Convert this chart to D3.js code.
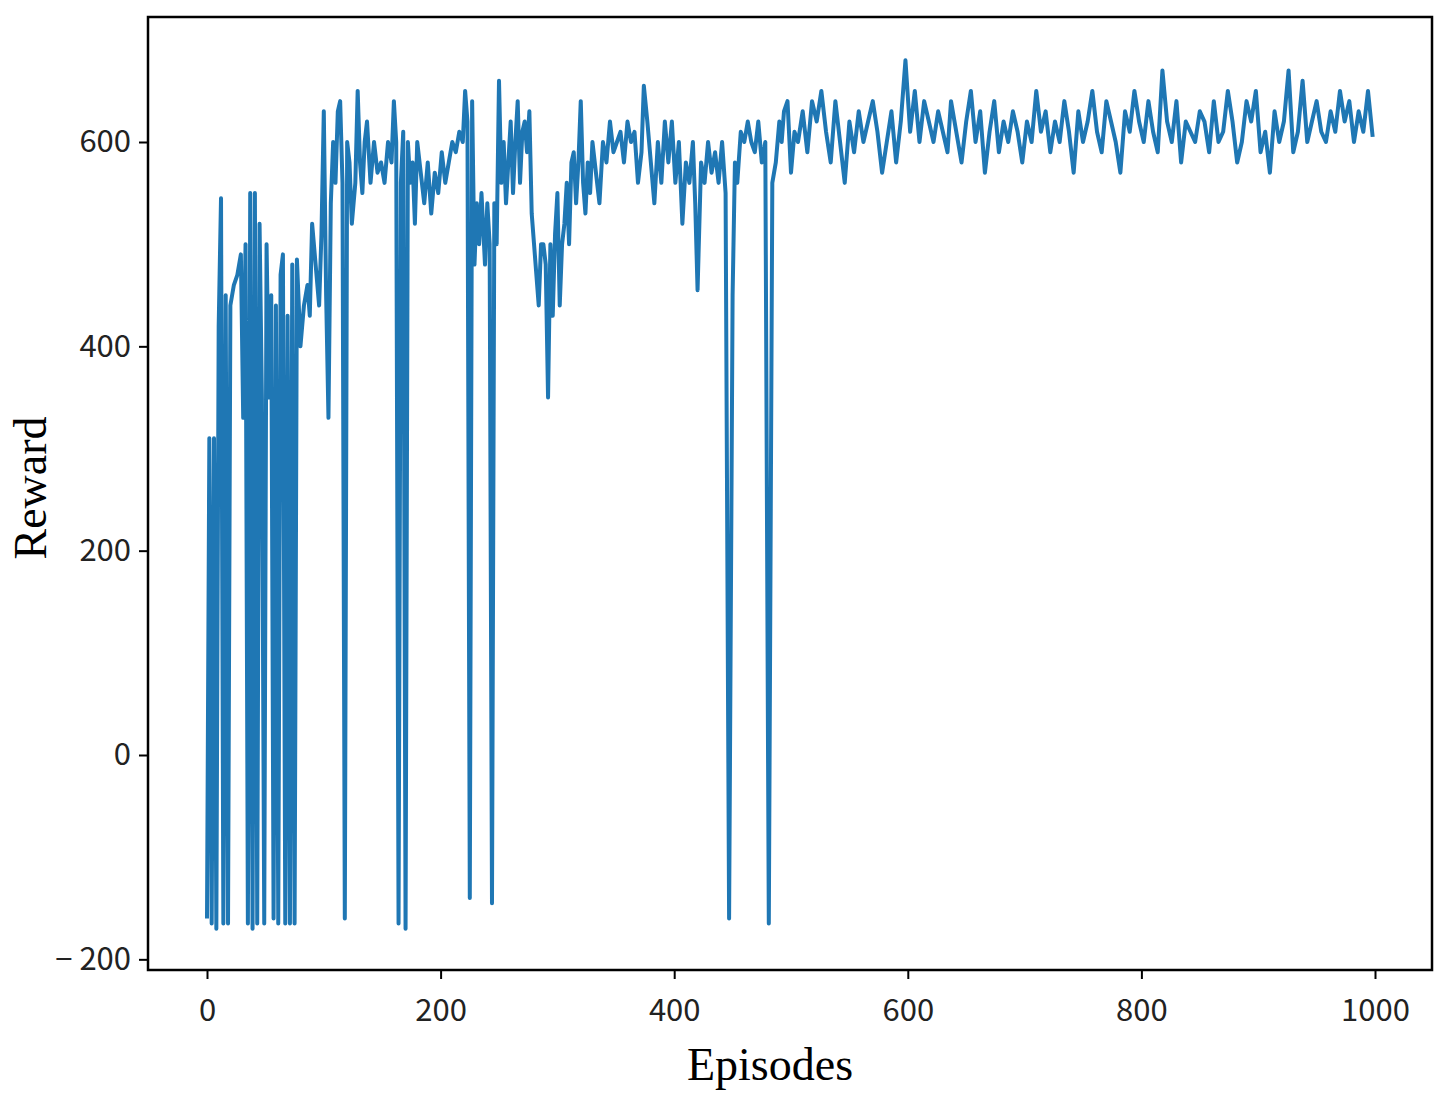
<!DOCTYPE html>
<html><head><meta charset="utf-8">
<script src="https://cdn.jsdelivr.net/npm/d3@7"></script>
<style>body{margin:0;background:#fff}</style></head>
<body><svg id="c" width="1450" height="1107"></svg>
<script>
// episode / reward samples
const episodes = [0,2,4,6,8,10,12,14,16,18,20,23,26,29,31,33,35,37,39,41,43,45,47,49,51,53,55,57,59,61,63,65,67,69,71,73,75,77,80,83,86,88,90,93,96,98,100,102,104,106,108,110,112,114,116,118,120,122,124,127,129,131,133,135,137,140,143,146,149,152,155,158,160,162,164,166,168,170,172,174,176,178,180,183,186,189,192,195,198,201,204,207,210,213,216,219,221,223,225,227,229,231,233,235,238,240,242,244,246,248,250,252,254,256,258,260,262,264,266,268,270,272,274,276,278,280,282,284,286,288,290,292,294,296,298,300,302,304,306,308,310,312,314,316,318,320,322,324,326,328,330,333,336,339,342,345,348,351,354,357,360,363,366,369,372,374,377,380,383,386,389,392,395,398,401,404,407,410,413,416,418,420,423,426,429,432,435,438,441,444,447,450,452,454,457,460,463,466,469,472,475,478,481,484,487,490,492,494,497,500,503,506,510,514,518,522,526,530,534,538,542,546,550,554,558,562,566,570,574,578,582,586,590,594,598,602,606,610,614,618,622,626,630,634,637,640,643,646,650,654,658,662,666,670,674,678,682,686,690,694,698,702,706,710,714,718,722,726,730,734,738,742,746,750,754,758,762,766,770,774,778,782,786,790,794,798,802,806,810,814,818,822,826,830,834,838,842,846,850,854,858,862,866,870,874,878,882,886,890,894,898,902,906,910,914,918,922,926,930,934,938,942,946,950,954,958,962,966,970,974,978,982,986,990,994,998];
const rewards = [-160,310,-165,310,-170,420,545,-165,450,-165,440,460,470,490,330,500,-165,550,-170,550,-165,520,350,-165,500,350,450,-160,440,-165,470,490,-165,430,-165,480,-165,485,400,440,460,430,520,480,440,510,630,450,330,540,600,560,630,640,560,-160,600,580,520,560,650,580,550,600,620,560,600,570,580,560,600,580,640,600,-165,560,610,-170,600,560,580,520,600,570,540,580,530,570,550,590,560,580,600,590,610,600,650,620,-140,640,480,540,500,550,480,540,500,-145,540,500,660,560,600,540,580,620,550,600,640,560,610,620,590,630,530,500,470,440,500,500,480,350,500,430,510,550,440,500,520,560,500,580,590,540,580,640,560,530,580,550,600,570,540,600,580,620,590,600,610,580,620,600,610,560,590,655,620,580,540,600,560,620,580,620,560,600,520,580,560,600,540,455,580,560,600,570,590,560,600,550,-160,450,580,560,610,600,620,600,590,620,580,600,-165,560,580,620,600,630,640,570,610,600,630,590,640,620,650,610,580,640,600,560,620,590,630,600,620,640,610,570,600,630,580,620,680,610,650,600,640,620,600,630,610,590,640,620,600,580,620,650,600,630,570,610,640,590,620,600,630,610,580,620,600,650,610,630,590,620,600,640,610,570,630,600,620,650,610,590,640,620,600,570,630,610,650,620,600,640,610,590,670,620,600,640,580,620,610,600,630,620,590,640,600,610,650,620,580,600,640,620,650,590,610,570,630,600,620,670,590,610,660,600,620,640,610,600,630,610,650,620,640,600,630,610,650,605];
const xTicks = [0,200,400,600,800,1000];
const yTicks = [-200,0,200,400,600];

const svg = d3.select("#c");
const L = 148, R = 1432, T = 17, B = 970;
const x = d3.scaleLinear().domain([0,1000]).range([207,1375]);
const y = d3.scaleLinear().domain([0,600]).range([755,142]);

const line = d3.line().x((d,i) => x(episodes[i])).y(d => y(d));
svg.append("path").datum(rewards.slice(0, episodes.length))
    .attr("d", line)
    .attr("fill","none").attr("stroke","#1f77b4").attr("stroke-width",4)
    .attr("stroke-linejoin","round");

svg.append("rect").attr("x",L).attr("y",T).attr("width",R-L).attr("height",B-T)
    .attr("fill","none").attr("stroke","#000").attr("stroke-width",2.5);

const tf = "'Noto Sans CJK SC', sans-serif";
const xa = svg.append("g").attr("transform",`translate(0,${B})`)
    .call(d3.axisBottom(x).tickValues(xTicks).tickSize(9).tickPadding(20).tickFormat(d3.format("d")));
const ya = svg.append("g").attr("transform",`translate(${L},0)`)
    .call(d3.axisLeft(y).tickValues(yTicks).tickSize(9).tickPadding(8)
        .tickFormat(d => d < 0 ? "\u2212 " + (-d) : d));
[xa, ya].forEach(a => {
    a.select(".domain").remove();
    a.selectAll("line").attr("stroke","#000").attr("stroke-width",2);
    a.selectAll("text").attr("font-family",tf).attr("font-size",31).attr("fill","#222");
});

svg.append("text").attr("x",770).attr("y",1080).attr("text-anchor","middle")
    .attr("font-family","'Liberation Serif', serif").attr("font-size",46).text("Episodes");
svg.append("text").attr("transform","translate(46,488) rotate(-90)").attr("text-anchor","middle")
    .attr("font-family","'Liberation Serif', serif").attr("font-size",46).text("Reward");
</script></body></html>
